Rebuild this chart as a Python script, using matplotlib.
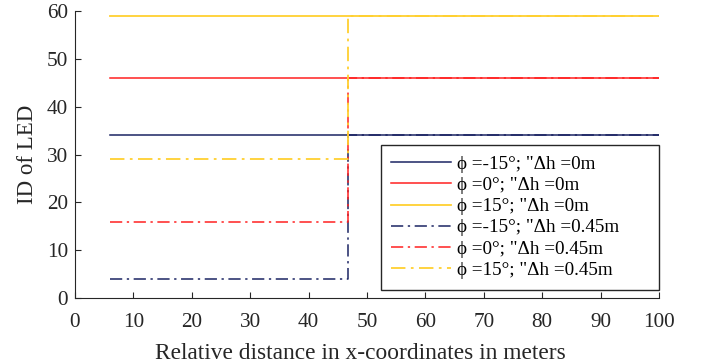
import matplotlib
matplotlib.use("Agg")
import matplotlib.pyplot as plt

plt.rcParams['font.family'] = ['Liberation Serif', 'DejaVu Serif']

# x positions of the curve points (start, jump, jump, end)
x_pts = [6, 46.8, 46.8, 100]

# LED IDs, no height offset
id_m15_0 = [34, 34, 34, 34]
id_0_0 = [46, 46, 46, 46]
id_15_0 = [59, 59, 59, 59]
# LED IDs, 0.45 m height offset
id_m15_45 = [4, 4, 34, 34]
id_0_45 = [16, 16, 46, 46]
id_15_45 = [29, 29, 59, 59]

labels = ['\u03d5 =-15°; "\u0394h =0m',
          '\u03d5 =0°; "\u0394h =0m',
          '\u03d5 =15°; "\u0394h =0m',
          '\u03d5 =-15°; "\u0394h =0.45m',
          '\u03d5 =0°; "\u0394h =0.45m',
          '\u03d5 =15°; "\u0394h =0.45m']

navy = '#1b2463'
red = '#ff2020'
yellow = '#ffd030'
dashdot = (0, (8, 3, 1.5, 3))

fig = plt.figure(figsize=(7.04, 3.64), dpi=100)
ax = fig.add_axes([0.1065, 0.181, 0.8295, 0.789])

ax.plot(x_pts, id_m15_0, color=navy, lw=1.1, label=labels[0])
ax.plot(x_pts, id_0_0, color=red, lw=1.1, label=labels[1])
ax.plot(x_pts, id_15_0, color=yellow, lw=1.3, label=labels[2])
ax.plot(x_pts, id_m15_45, color=navy, lw=1.1, ls=dashdot, label=labels[3])
ax.plot(x_pts, id_0_45, color=red, lw=1.1, ls=dashdot, label=labels[4])
ax.plot(x_pts, id_15_45, color=yellow, lw=1.3, ls=dashdot, label=labels[5])

ax.set_xlim(0, 100)
ax.set_ylim(0, 60)
ax.set_xticks(range(0, 101, 10))
ax.set_yticks(range(0, 61, 10))
ax.spines['top'].set_visible(False)
ax.spines['right'].set_visible(False)
ax.spines['left'].set_color('#262626')
ax.spines['bottom'].set_color('#262626')
ax.tick_params(direction='in', labelsize=15.3, colors='#262626', length=4)
ax.tick_params(axis='y', pad=5)
ax.tick_params(axis='x', pad=10.5)
ax.set_xlabel('Relative distance in x-coordinates in meters', fontsize=16.8,
              color='#262626')
ax.xaxis.set_label_coords(0.488, -0.155)
ax.set_ylabel('ID of LED', fontsize=16.5, color='#262626', labelpad=6)

# trailing spaces widen the legend box on the right like the original
leg = ax.legend([h for h in ax.get_lines()],
                [s + '\u2002' * 3 for s in labels],
                loc='lower right', bbox_to_anchor=(1.0, 0.03), fontsize=13.8,
                fancybox=False, framealpha=1, edgecolor='#262626',
                handlelength=3.1, borderpad=0.55, labelspacing=0.2,
                handletextpad=0.35, borderaxespad=0)
leg.get_frame().set_linewidth(1)

fig.savefig('out.png', dpi=100)
